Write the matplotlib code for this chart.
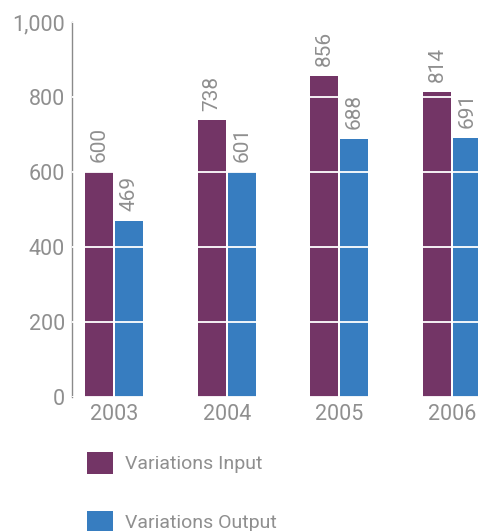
import matplotlib
matplotlib.use("Agg")
import matplotlib.pyplot as plt
from matplotlib.ticker import FuncFormatter
from matplotlib.patches import Patch
import numpy as np

years = ["2003", "2004", "2005", "2006"]
series_names = ["Variations Input", "Variations Output"]
input_values = [600, 738, 856, 814]
output_values = [469, 601, 688, 691]
y_ticks = [0, 200, 400, 600, 800, 1000]

purple = "#733566"
blue = "#377dc0"
text_gray = "#8f8f8f"

plt.rcParams['font.family'] = ['Roboto', 'DejaVu Sans']
plt.rcParams['font.weight'] = 'normal'

W, H = 478, 531
fig = plt.figure(figsize=(W / 100, H / 100), dpi=100)
ax_left = 72 / W
ax_bottom = (H - 397) / H
ax_height = (397 - 22) / H
ax = fig.add_axes([ax_left, ax_bottom, 1 - ax_left, ax_height])

x = np.arange(len(years))
bw = 0.248
gap = 0.009
ax.bar(x - bw / 2 - gap, input_values, width=bw, color=purple, zorder=2)
ax.bar(x + bw / 2 + gap, output_values, width=bw, color=blue, zorder=2)

for xi, v in zip(x, input_values):
    ax.annotate(f"{v}", (xi - bw / 2 - gap, v), xytext=(0, 7), textcoords="offset points",
                rotation=90, ha="center", va="bottom", color=text_gray, fontsize=15)
for xi, v in zip(x, output_values):
    ax.annotate(f"{v}", (xi + bw / 2 + gap, v), xytext=(0, 7), textcoords="offset points",
                rotation=90, ha="center", va="bottom", color=text_gray, fontsize=15)

px_per_unit = 112.7
ax.set_xlim((72 - 114) / px_per_unit, (478 - 114) / px_per_unit)
ax.set_ylim(0, 1000)
ax.set_yticks(y_ticks)
ax.yaxis.set_major_formatter(FuncFormatter(lambda v, p: f"{v:,.0f}"))
ax.set_xticks(x)
ax.set_xticklabels(years)
ax.tick_params(axis="y", length=0, pad=5, labelsize=15.5, labelcolor=text_gray)
ax.tick_params(axis="x", length=0, pad=5, labelsize=15.5, labelcolor=text_gray)

ax.yaxis.grid(True, color="white", linewidth=1.3, zorder=3)
ax.set_axisbelow(False)
for s in ["top", "right", "bottom"]:
    ax.spines[s].set_visible(False)
ax.spines["left"].set_color("#8a8a8a")
ax.spines["left"].set_linewidth(1.0)

handles = [Patch(facecolor=purple, edgecolor="none"), Patch(facecolor=blue, edgecolor="none")]
fig.legend(handles, series_names, loc="upper left",
           bbox_to_anchor=(87 / W, 1 - 452 / H), frameon=False,
           fontsize=14, labelcolor=text_gray, handlelength=1.34, handleheight=1.34,
           handletextpad=0.62, labelspacing=1.9, borderpad=0, borderaxespad=0)

fig.savefig("out.png", dpi=100)
